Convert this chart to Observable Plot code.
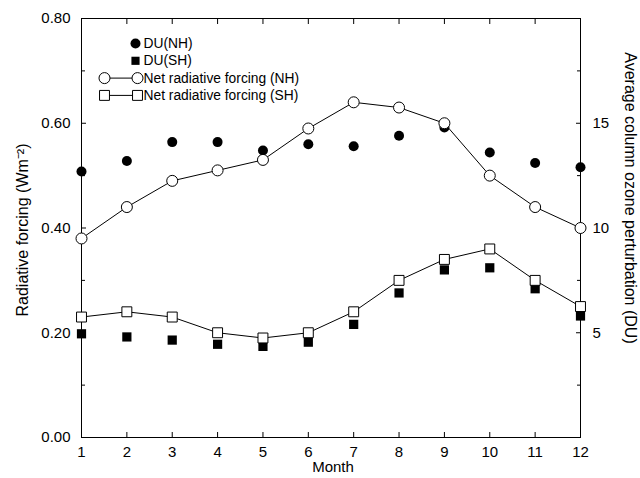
<!DOCTYPE html>
<html>
<head>
<meta charset="utf-8">
<script src="https://cdn.jsdelivr.net/npm/d3@7"></script>
<script src="https://cdn.jsdelivr.net/npm/@observablehq/plot@0.6"></script>
<style>
  html, body { margin: 0; padding: 0; background: #fff; overflow: hidden; width: 640px; height: 478px; }
  #chart svg { overflow: hidden; display: block; }
</style>
</head>
<body>
<div id="chart"></div>
<script>
// ---- data ----
const months = [1, 2, 3, 4, 5, 6, 7, 8, 9, 10, 11, 12];
// Net radiative forcing (W m^-2)
const netNH = [0.38, 0.44, 0.49, 0.51, 0.53, 0.59, 0.64, 0.63, 0.60, 0.50, 0.44, 0.40];
const netSH = [0.23, 0.24, 0.23, 0.20, 0.19, 0.20, 0.24, 0.30, 0.34, 0.36, 0.30, 0.25];
// Average column ozone perturbation (DU)
const duNH = [12.7, 13.2, 14.1, 14.1, 13.7, 14.0, 13.9, 14.4, 14.8, 13.6, 13.1, 12.9];
const duSH = [4.95, 4.8, 4.65, 4.45, 4.35, 4.55, 5.4, 6.9, 8.0, 8.1, 7.1, 5.8];

const leftTicks = [0, 0.2, 0.4, 0.6, 0.8];
const leftMinor = [0.1, 0.3, 0.5, 0.7];
const rightTicks = [5, 10, 15];
const rightMinor = [2.5, 7.5, 12.5, 17.5];
const yMax = 0.8;   // W m^-2 at top of left axis
const duMax = 20;   // DU at top of right axis
const toLeft = du => du / duMax * yMax;

const legendItems = [
  {label: "DU(NH)", symbol: "circle", fill: "black", line: false},
  {label: "DU(SH)", symbol: "square", fill: "black", line: false},
  {label: "Net radiative forcing (NH)", symbol: "circle", fill: "white", line: true},
  {label: "Net radiative forcing (SH)", symbol: "square", fill: "white", line: true}
];

const nh = months.map((m, i) => ({month: m, net: netNH[i], du: duNH[i]}));
const sh = months.map((m, i) => ({month: m, net: netSH[i], du: duSH[i]}));

const hSeg = {draw(context, l) { context.moveTo(0, 0); context.lineTo(0, -l); }};

const legendMarks = [];
legendItems.forEach((it, i) => {
  const dy = 25 + i * 17.3;
  if (it.line) {
    legendMarks.push(Plot.vector([0], {frameAnchor: "top-left", dx: 23, dy, rotate: 90, length: 33, anchor: "start", shape: hSeg, stroke: "black", strokeWidth: 1}));
    legendMarks.push(Plot.dot([0], {frameAnchor: "top-left", dx: 23, dy, symbol: it.symbol, r: it.symbol === "circle" ? 5.5 : 5.6, fill: "white", stroke: "black", strokeWidth: 1}));
    legendMarks.push(Plot.dot([0], {frameAnchor: "top-left", dx: 56, dy, symbol: it.symbol, r: it.symbol === "circle" ? 5.5 : 5.6, fill: "white", stroke: "black", strokeWidth: 1}));
  } else {
    legendMarks.push(Plot.dot([0], {frameAnchor: "top-left", dx: 54, dy, symbol: it.symbol, r: it.symbol === "circle" ? 5 : 4.6, fill: "black", stroke: "none"}));
  }
  legendMarks.push(Plot.text([it.label], {frameAnchor: "top-left", dx: 62, dy, text: d => d, textAnchor: "start", lineAnchor: "middle", fontSize: 13.8, fill: "black"}));
});

const chart = Plot.plot({
  width: 640,
  height: 478,
  marginTop: 18,
  marginLeft: 81,
  marginRight: 60,
  marginBottom: 41,
  style: {fontFamily: "'Liberation Sans', Arial, Helvetica, sans-serif", fontSize: "14px", background: "white", color: "black", overflow: "hidden"},
  x: {domain: [1, 12]},
  y: {domain: [0, yMax]},
  marks: [
    Plot.frame({stroke: "black", strokeWidth: 1}),
    // left axis
    Plot.axisY(leftTicks, {anchor: "left", tickSize: -5, tickPadding: 16, tickFormat: d3.format(".2f"), label: null, fontSize: 15}),
    Plot.axisY(leftMinor, {anchor: "left", tickSize: -4, tickFormat: () => "", label: null}),
    // right axis (DU)
    Plot.axisY(rightTicks.map(toLeft), {anchor: "right", tickSize: -5, tickPadding: 17, tickFormat: d => String(Math.round(d / yMax * duMax)), label: null, fontSize: 15}),
    Plot.axisY(rightMinor.map(toLeft), {anchor: "right", tickSize: -4, tickFormat: () => "", label: null}),
    // x axes
    Plot.axisX(months, {anchor: "bottom", tickSize: -5, tickPadding: 14, label: null, fontSize: 15}),
    Plot.axisX(months, {anchor: "top", tickSize: -5, tickFormat: () => "", label: null}),
    // axis titles
    Plot.text(["Radiative forcing (Wm\u207B\u00B2)"], {frameAnchor: "left", text: d => d, rotate: -90, textAnchor: "middle", lineAnchor: "middle", dx: -59, dy: 2, fontSize: 16, fill: "black"}),
    Plot.text(["Average column ozone perturbation (DU)"], {frameAnchor: "right", text: d => d, rotate: 90, textAnchor: "middle", lineAnchor: "middle", dx: 50, dy: -30, fontSize: 16, fill: "black"}),
    Plot.text(["Month"], {frameAnchor: "bottom", text: d => d, textAnchor: "middle", lineAnchor: "middle", dx: 2, dy: 30, fontSize: 15, fill: "black"}),
    // data
    Plot.line(nh, {x: "month", y: "net", stroke: "black", strokeWidth: 1}),
    Plot.line(sh, {x: "month", y: "net", stroke: "black", strokeWidth: 1}),
    Plot.dot(nh, {x: "month", y: d => toLeft(d.du), symbol: "circle", r: 5, fill: "black", stroke: "none"}),
    Plot.dot(sh, {x: "month", y: d => toLeft(d.du), symbol: "square", r: 5.2, fill: "black", stroke: "none"}),
    Plot.dot(nh, {x: "month", y: "net", symbol: "circle", r: 5.5, fill: "white", stroke: "black", strokeWidth: 1}),
    Plot.dot(sh, {x: "month", y: "net", symbol: "square", r: 5.6, fill: "white", stroke: "black", strokeWidth: 1}),
    ...legendMarks
  ]
});
document.getElementById("chart").append(chart);
</script>
</body>
</html>
